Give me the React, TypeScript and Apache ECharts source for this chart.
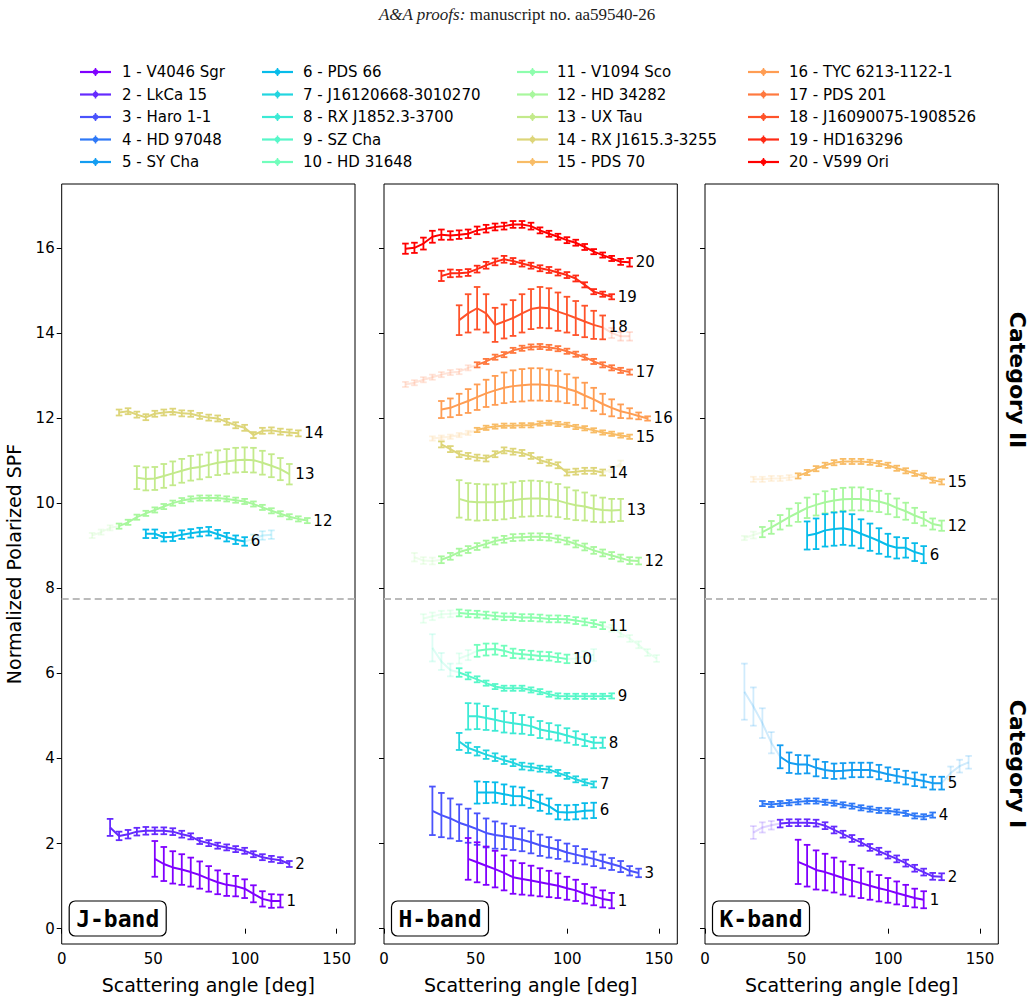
import React, { useEffect, useRef } from "react";
import * as echarts from "echarts";

// Common grid of scattering angles (deg)
const ANGLES = [11.7, 16.6, 21.5, 26.4, 31.3, 36.2, 41.0, 45.9, 50.8, 55.7, 60.6, 65.5, 70.4, 75.3, 80.2, 85.1, 90.0, 94.9, 99.8, 104.6, 109.5, 114.4, 119.3, 124.2, 129.1, 134.0, 138.9, 143.8, 148.7];

const NAMES = [
  "1 - V4046 Sgr", "2 - LkCa 15", "3 - Haro 1-1", "4 - HD 97048", "5 - SY Cha",
  "6 - PDS 66", "7 - J16120668-3010270", "8 - RX J1852.3-3700", "9 - SZ Cha", "10 - HD 31648",
  "11 - V1094 Sco", "12 - HD 34282", "13 - UX Tau", "14 - RX J1615.3-3255", "15 - PDS 70",
  "16 - TYC 6213-1122-1", "17 - PDS 201", "18 - J16090075-1908526", "19 - HD163296", "20 - V599 Ori",
];

const BANDS = ["J-band", "H-band", "K-band"];
const X_TICKS = [0, 50, 100, 150];
const Y_TICKS = [0, 2, 4, 6, 8, 10, 12, 14, 16];
const CATEGORY_SPLIT = 7.76;

// ---------- H band ----------
const H20_VAL = [15.98, 16.0, 16.1, 16.26, 16.31, 16.29, 16.31, 16.33, 16.41, 16.45, 16.49, 16.51, 16.55, 16.55, 16.51, 16.41, 16.33, 16.26, 16.18, 16.12, 16.02, 15.91, 15.83, 15.75, 15.67, 15.66];
const H20_ERR = [0.12, 0.12, 0.14, 0.14, 0.12, 0.1, 0.1, 0.1, 0.09, 0.09, 0.08, 0.08, 0.08, 0.08, 0.08, 0.07, 0.07, 0.07, 0.07, 0.07, 0.07, 0.06, 0.06, 0.06, 0.07, 0.1];
const H19_VAL = [15.34, 15.40, 15.40, 15.42, 15.50, 15.59, 15.67, 15.73, 15.69, 15.63, 15.58, 15.52, 15.48, 15.42, 15.36, 15.28, 15.13, 14.97, 14.91, 14.85];
const H19_ERR = [0.12, 0.09, 0.08, 0.08, 0.08, 0.08, 0.08, 0.08, 0.07, 0.07, 0.07, 0.07, 0.07, 0.07, 0.07, 0.07, 0.06, 0.06, 0.06, 0.06];
const H18_VAL = [14.3, 14.46, 14.58, 14.46, 14.19, 14.27, 14.35, 14.46, 14.56, 14.60, 14.58, 14.50, 14.43, 14.35, 14.27, 14.19, 14.13, 14.00, 13.92, 13.92];
const H18_ERR = [0.35, 0.45, 0.5, 0.45, 0.4, 0.4, 0.42, 0.45, 0.47, 0.48, 0.47, 0.45, 0.42, 0.4, 0.37, 0.33, 0.28, 0.12, 0.1, 0.1];
const H17_VAL = [12.79, 12.83, 12.90, 12.96, 13.02, 13.07, 13.09, 13.18, 13.25, 13.33, 13.43, 13.49, 13.59, 13.64, 13.67, 13.68, 13.66, 13.63, 13.57, 13.50, 13.43, 13.33, 13.25, 13.18, 13.12, 13.08];
const H17_ERR = [0.06];
const H16_VAL = [12.20, 12.24, 12.32, 12.40, 12.49, 12.58, 12.65, 12.71, 12.75, 12.77, 12.79, 12.79, 12.77, 12.75, 12.69, 12.63, 12.53, 12.44, 12.33, 12.24, 12.16, 12.11, 12.05, 11.99];
const H16_ERR = [0.2, 0.22, 0.25, 0.28, 0.3, 0.32, 0.34, 0.36, 0.37, 0.38, 0.38, 0.38, 0.37, 0.36, 0.34, 0.32, 0.3, 0.27, 0.24, 0.2, 0.16, 0.12, 0.08, 0.05];
const H15_VAL = [11.52, 11.54, 11.56, 11.60, 11.65, 11.72, 11.77, 11.80, 11.82, 11.82, 11.83, 11.83, 11.87, 11.89, 11.86, 11.84, 11.79, 11.76, 11.71, 11.66, 11.63, 11.59, 11.56];
const H15_ERR = [0.05];
const H14_VAL = [11.38, 11.27, 11.15, 11.11, 11.07, 11.05, 11.15, 11.24, 11.21, 11.18, 11.11, 11.01, 10.95, 10.89, 10.72, 10.74, 10.76, 10.76, 10.72, 10.80, 10.93];
const H14_ERR = [0.07];
const H13_VAL = [10.10, 10.04, 10.02, 10.02, 10.02, 10.04, 10.07, 10.10, 10.11, 10.11, 10.09, 10.06, 10.00, 9.95, 9.92, 9.87, 9.84, 9.83, 9.84];
const H13_ERR = [0.44, 0.43, 0.43, 0.42, 0.42, 0.42, 0.42, 0.42, 0.42, 0.41, 0.4, 0.39, 0.37, 0.35, 0.33, 0.31, 0.29, 0.27, 0.26];
const H12_VAL = [8.73, 8.65, 8.64, 8.67, 8.75, 8.85, 8.91, 8.98, 9.04, 9.11, 9.15, 9.19, 9.20, 9.21, 9.21, 9.20, 9.16, 9.11, 9.04, 8.97, 8.89, 8.83, 8.77, 8.71, 8.65, 8.64];
const H12_ERR = [0.1, 0.08];
const H11_VAL = [7.29, 7.34, 7.39, 7.40, 7.42, 7.40, 7.39, 7.37, 7.35, 7.33, 7.33, 7.31, 7.31, 7.30, 7.28, 7.28, 7.27, 7.24, 7.21, 7.17, 7.12, 7.06, 6.94, 6.82, 6.67, 6.49, 6.35];
const H11_ERR = [0.1, 0.09, 0.08];
const H10_VAL = [6.35, 6.43, 6.53, 6.56, 6.57, 6.53, 6.47, 6.45, 6.43, 6.41, 6.40, 6.37, 6.34, 6.35, 6.40, 6.43];
const H10_ERR = [0.12, 0.12, 0.14, 0.14, 0.13, 0.12, 0.11, 0.1, 0.1, 0.1, 0.1, 0.1, 0.1, 0.1, 0.12, 0.14];
const H9_VAL = [6.6, 6.28, 6.08, 6.02, 5.94, 5.86, 5.77, 5.69, 5.65, 5.65, 5.65, 5.61, 5.57, 5.51, 5.47, 5.46, 5.46, 5.46, 5.46, 5.46, 5.47];
const H9_ERR = [0.32, 0.2, 0.15, 0.1, 0.08, 0.07, 0.06];
const H8_VAL = [4.99, 4.99, 4.95, 4.91, 4.86, 4.83, 4.80, 4.76, 4.68, 4.64, 4.60, 4.54, 4.48, 4.43, 4.37, 4.37];
const H8_ERR = [0.31, 0.3, 0.28, 0.26, 0.25, 0.24, 0.22, 0.21, 0.2, 0.19, 0.18, 0.17, 0.16, 0.14, 0.13, 0.12];
const H7_VAL = [4.40, 4.25, 4.17, 4.09, 4.03, 3.96, 3.90, 3.82, 3.80, 3.76, 3.74, 3.66, 3.59, 3.51, 3.44, 3.39];
const H7_ERR = [0.2, 0.12, 0.1, 0.1, 0.09, 0.09, 0.08, 0.08, 0.08, 0.07];
const H6_VAL = [3.20, 3.20, 3.20, 3.16, 3.12, 3.11, 3.04, 2.96, 2.88, 2.74, 2.73, 2.74, 2.77, 2.78];
const H6_ERR = [0.26, 0.25, 0.24, 0.23, 0.22, 0.21, 0.2, 0.19, 0.18, 0.17, 0.17, 0.17, 0.18, 0.18];
const H3_VAL = [2.77, 2.67, 2.59, 2.49, 2.42, 2.34, 2.25, 2.20, 2.17, 2.13, 2.09, 2.03, 1.96, 1.91, 1.86, 1.79, 1.74, 1.69, 1.64, 1.58, 1.52, 1.46, 1.36, 1.31];
const H3_ERR = [0.57, 0.52, 0.47, 0.43, 0.4, 0.37, 0.34, 0.32, 0.3, 0.28, 0.27, 0.26, 0.25, 0.24, 0.22, 0.21, 0.2, 0.18, 0.17, 0.16, 0.14, 0.13, 0.11, 0.1];
const H1_VAL = [1.64, 1.56, 1.48, 1.40, 1.31, 1.21, 1.17, 1.13, 1.09, 1.05, 1.01, 0.95, 0.90, 0.82, 0.76, 0.70, 0.66];
const H1_ERR = [0.49, 0.47, 0.45, 0.43, 0.41, 0.39, 0.37, 0.35, 0.33, 0.31, 0.29, 0.27, 0.25, 0.23, 0.21, 0.2, 0.18];

// ---------- J band ----------
const J14_VAL = [12.13, 12.16, 12.08, 12.02, 12.10, 12.13, 12.15, 12.11, 12.10, 12.05, 12.01, 11.99, 11.91, 11.83, 11.77, 11.60, 11.70, 11.71, 11.68, 11.66, 11.64];
const J14_ERR = [0.07];
const J13_VAL = [10.60, 10.57, 10.58, 10.64, 10.70, 10.76, 10.82, 10.85, 10.90, 10.95, 10.98, 11.01, 11.02, 11.01, 10.95, 10.88, 10.80, 10.68];
const J13_ERR = [0.27, 0.27, 0.27, 0.28, 0.28, 0.28, 0.29, 0.29, 0.29, 0.29, 0.29, 0.29, 0.29, 0.29, 0.28, 0.27, 0.26, 0.24];
const J12_VAL = [9.24, 9.32, 9.42, 9.46, 9.55, 9.67, 9.76, 9.84, 9.92, 10.00, 10.06, 10.10, 10.12, 10.12, 10.12, 10.10, 10.07, 10.04, 9.98, 9.90, 9.82, 9.75, 9.68, 9.63, 9.59];
const J12_ERR = [0.06];
const J6_VAL = [9.28, 9.28, 9.20, 9.21, 9.26, 9.29, 9.32, 9.34, 9.27, 9.20, 9.14, 9.10, 9.16, 9.24, 9.26];
const J6_ERR = [0.1];
const J2_VAL = [2.38, 2.18, 2.22, 2.28, 2.30, 2.30, 2.30, 2.28, 2.22, 2.17, 2.06, 2.01, 1.95, 1.91, 1.87, 1.83, 1.75, 1.68, 1.64, 1.61, 1.52];
const J2_ERR = [0.2, 0.1, 0.1, 0.09, 0.09, 0.08, 0.08, 0.08, 0.08, 0.07];
const J1_VAL = [1.64, 1.52, 1.44, 1.39, 1.33, 1.26, 1.17, 1.09, 1.03, 1.00, 0.94, 0.82, 0.70, 0.65, 0.65];
const J1_ERR = [0.42, 0.4, 0.38, 0.36, 0.34, 0.32, 0.3, 0.28, 0.26, 0.24, 0.22, 0.2, 0.18, 0.16, 0.15];

// ---------- K band ----------
const K15_VAL = [10.56, 10.56, 10.58, 10.58, 10.60, 10.64, 10.72, 10.81, 10.89, 10.95, 10.98, 10.98, 10.98, 10.96, 10.93, 10.89, 10.82, 10.76, 10.70, 10.64, 10.54, 10.50];
const K15_ERR = [0.06];
const K12_VAL = [9.18, 9.25, 9.32, 9.43, 9.55, 9.67, 9.78, 9.89, 9.96, 10.02, 10.06, 10.09, 10.10, 10.10, 10.07, 10.04, 9.98, 9.89, 9.81, 9.71, 9.63, 9.51, 9.47];
const K12_ERR = [0.05, 0.08, 0.12, 0.15, 0.17, 0.2, 0.22, 0.24, 0.25, 0.26, 0.27, 0.27, 0.27, 0.27, 0.26, 0.25, 0.24, 0.22, 0.2, 0.18, 0.16, 0.13, 0.12];
const K6_VAL = [9.24, 9.28, 9.36, 9.39, 9.41, 9.37, 9.28, 9.20, 9.11, 9.01, 8.95, 8.95, 8.85, 8.79];
const K6_ERR = [0.33, 0.36, 0.38, 0.39, 0.39, 0.37, 0.34, 0.32, 0.3, 0.27, 0.25, 0.23, 0.21, 0.2];
const K5_VAL = [5.57, 5.22, 4.83, 4.37, 4.04, 3.90, 3.86, 3.86, 3.78, 3.73, 3.70, 3.71, 3.73, 3.73, 3.73, 3.68, 3.63, 3.59, 3.55, 3.51, 3.47, 3.42, 3.42, 3.66, 3.82, 3.91];
const K5_ERR = [0.66, 0.45, 0.35, 0.25, 0.27, 0.24, 0.22, 0.21, 0.2, 0.19, 0.18, 0.18, 0.17, 0.17, 0.17, 0.17, 0.16, 0.16, 0.16, 0.16, 0.15, 0.15, 0.15, 0.15, 0.15, 0.15];
const K4_VAL = [2.94, 2.92, 2.94, 2.96, 2.98, 3.00, 3.00, 2.97, 2.95, 2.91, 2.88, 2.84, 2.81, 2.78, 2.77, 2.74, 2.71, 2.65, 2.63, 2.67];
const K4_ERR = [0.06];
const K2_VAL = [2.26, 2.38, 2.43, 2.47, 2.49, 2.49, 2.49, 2.48, 2.42, 2.32, 2.22, 2.12, 2.03, 1.91, 1.82, 1.73, 1.64, 1.54, 1.42, 1.33, 1.23, 1.22];
const K2_ERR = [0.15, 0.12, 0.1, 0.09, 0.08];
const K1_VAL = [1.57, 1.48, 1.38, 1.33, 1.26, 1.19, 1.13, 1.07, 1.01, 0.95, 0.90, 0.84, 0.78, 0.72, 0.68];
const K1_ERR = [0.52, 0.49, 0.46, 0.43, 0.41, 0.39, 0.37, 0.35, 0.33, 0.31, 0.29, 0.27, 0.25, 0.22, 0.2];

type Curve = { band: number; id: number; g0: number; val: number[]; err: number[]; s0: number; s1: number };

// band, id, first grid index, values, errors, solid range (local indices)
const CURVES: Curve[] = [
  { band: 0, id: 14, g0: 4, val: J14_VAL, err: J14_ERR, s0: 0, s1: 20 },
  { band: 0, id: 13, g0: 6, val: J13_VAL, err: J13_ERR, s0: 0, s1: 17 },
  { band: 0, id: 12, g0: 1, val: J12_VAL, err: J12_ERR, s0: 3, s1: 24 },
  { band: 0, id: 6, g0: 7, val: J6_VAL, err: J6_ERR, s0: 0, s1: 11 },
  { band: 0, id: 2, g0: 3, val: J2_VAL, err: J2_ERR, s0: 0, s1: 20 },
  { band: 0, id: 1, g0: 8, val: J1_VAL, err: J1_ERR, s0: 0, s1: 14 },
  { band: 1, id: 20, g0: 0, val: H20_VAL, err: H20_ERR, s0: 0, s1: 25 },
  { band: 1, id: 19, g0: 4, val: H19_VAL, err: H19_ERR, s0: 0, s1: 19 },
  { band: 1, id: 18, g0: 6, val: H18_VAL, err: H18_ERR, s0: 0, s1: 16 },
  { band: 1, id: 17, g0: 0, val: H17_VAL, err: H17_ERR, s0: 8, s1: 25 },
  { band: 1, id: 16, g0: 4, val: H16_VAL, err: H16_ERR, s0: 0, s1: 23 },
  { band: 1, id: 15, g0: 3, val: H15_VAL, err: H15_ERR, s0: 5, s1: 22 },
  { band: 1, id: 14, g0: 4, val: H14_VAL, err: H14_ERR, s0: 0, s1: 18 },
  { band: 1, id: 13, g0: 6, val: H13_VAL, err: H13_ERR, s0: 0, s1: 18 },
  { band: 1, id: 12, g0: 1, val: H12_VAL, err: H12_ERR, s0: 3, s1: 25 },
  { band: 1, id: 11, g0: 2, val: H11_VAL, err: H11_ERR, s0: 4, s1: 20 },
  { band: 1, id: 10, g0: 6, val: H10_VAL, err: H10_ERR, s0: 2, s1: 12 },
  { band: 1, id: 9, g0: 3, val: H9_VAL, err: H9_ERR, s0: 3, s1: 20 },
  { band: 1, id: 8, g0: 7, val: H8_VAL, err: H8_ERR, s0: 0, s1: 15 },
  { band: 1, id: 7, g0: 6, val: H7_VAL, err: H7_ERR, s0: 0, s1: 15 },
  { band: 1, id: 6, g0: 8, val: H6_VAL, err: H6_ERR, s0: 0, s1: 13 },
  { band: 1, id: 3, g0: 3, val: H3_VAL, err: H3_ERR, s0: 0, s1: 23 },
  { band: 1, id: 1, g0: 7, val: H1_VAL, err: H1_ERR, s0: 0, s1: 16 },
  { band: 2, id: 15, g0: 3, val: K15_VAL, err: K15_ERR, s0: 5, s1: 21 },
  { band: 2, id: 12, g0: 2, val: K12_VAL, err: K12_ERR, s0: 2, s1: 22 },
  { band: 2, id: 6, g0: 9, val: K6_VAL, err: K6_ERR, s0: 0, s1: 13 },
  { band: 2, id: 5, g0: 2, val: K5_VAL, err: K5_ERR, s0: 4, s1: 22 },
  { band: 2, id: 4, g0: 4, val: K4_VAL, err: K4_ERR, s0: 0, s1: 19 },
  { band: 2, id: 2, g0: 3, val: K2_VAL, err: K2_ERR, s0: 3, s1: 21 },
  { band: 2, id: 1, g0: 8, val: K1_VAL, err: K1_ERR, s0: 0, s1: 14 },
];

// ---------- styling ----------
const FONT = "DejaVu Sans";
const PANEL_LEFT = [61.7, 384, 705];
const PANEL_W = 293.3;
const PANEL_TOP = 184;
const PANEL_H = 760;
const FAINT = 0.2;

function rainbow(id: number): [number, number, number] {
  const x = (id - 1) / 19;
  const clip = (v: number) => Math.max(0, Math.min(1, v));
  return [clip(Math.abs(2 * x - 0.5)), clip(Math.sin(Math.PI * x)), clip(Math.cos((Math.PI / 2) * x))].map((v) => Math.round(v * 255)) as any;
}
function rgba(id: number, a: number) {
  const [r, g, b] = rainbow(id);
  return `rgba(${r},${g},${b},${a})`;
}

function errAt(c: Curve, i: number) {
  return i < c.err.length ? c.err[i] : c.err[c.err.length - 1];
}

function buildOption() {
  const series: any[] = [];
  const faintSeries: any[] = [];

  CURVES.forEach((c) => {
    const pts = c.val.map((v, i) => [ANGLES[c.g0 + i], v, errAt(c, i), i < c.s0 || i > c.s1 ? 1 : 0]);
    const axis = { xAxisIndex: c.band, yAxisIndex: c.band };
    const solidCol = rgba(c.id, 1);
    const faintCol = rgba(c.id, FAINT);
    const lineBase = { type: "line", ...axis, symbol: "none", silent: true, z: 3 };
    if (c.s0 > 0) {
      faintSeries.push({ ...lineBase, data: pts.slice(0, c.s0 + 1).map((p) => [p[0], p[1]]), lineStyle: { color: faintCol, width: 2 } });
    }
    if (c.s1 < pts.length - 1) {
      faintSeries.push({ ...lineBase, data: pts.slice(c.s1).map((p) => [p[0], p[1]]), lineStyle: { color: faintCol, width: 2 } });
    }
    series.push({ ...lineBase, z: 4, data: pts.slice(c.s0, c.s1 + 1).map((p) => [p[0], p[1]]), lineStyle: { color: solidCol, width: 2 } });
    series.push({
      type: "custom",
      ...axis,
      z: 5,
      silent: true,
      data: pts,
      encode: { x: 0, y: 1 },
      renderItem: (params: any, api: any) => {
        const x = api.value(0);
        const y = api.value(1);
        const e = api.value(2);
        const faint = api.value(3) === 1;
        const top = api.coord([x, y + e]);
        const bot = api.coord([x, y - e]);
        const cw = 3.3;
        const style = { stroke: faint ? faintCol : solidCol, lineWidth: 1.8, fill: null };
        return {
          type: "group",
          children: [
            { type: "line", shape: { x1: top[0], y1: top[1], x2: bot[0], y2: bot[1] }, style },
            { type: "line", shape: { x1: top[0] - cw, y1: top[1], x2: top[0] + cw, y2: top[1] }, style },
            { type: "line", shape: { x1: bot[0] - cw, y1: bot[1], x2: bot[0] + cw, y2: bot[1] }, style },
          ],
        };
      },
    });
    const last = pts[c.s1];
    series.push({
      type: "custom",
      ...axis,
      z: 6,
      silent: true,
      data: [[last[0], last[1], c.id]],
      encode: { x: 0, y: 1 },
      renderItem: (params: any, api: any) => {
        const p = api.coord([api.value(0), api.value(1)]);
        return {
          type: "text",
          x: p[0] + 6,
          y: p[1],
          style: { text: String(api.value(2)), fill: "#000", fontSize: 15, fontFamily: FONT, align: "left", verticalAlign: "middle" },
        };
      },
    });
  });

  // dashed category separator
  const sep = [0, 1, 2].map((b) => ({
    type: "line",
    xAxisIndex: b,
    yAxisIndex: b,
    data: [],
    silent: true,
    markLine: {
      silent: true,
      symbol: "none",
      label: { show: false },
      lineStyle: { color: "#bbbbbb", width: 1.8, type: [7, 4] },
      data: [{ yAxis: CATEGORY_SPLIT }],
    },
  }));

  const grids = [0, 1, 2].map((b) => ({
    left: PANEL_LEFT[b],
    top: PANEL_TOP,
    width: PANEL_W,
    height: PANEL_H,
    show: true,
    borderColor: "#000",
    borderWidth: 1,
    backgroundColor: "#fff",
  }));

  const xAxes = [0, 1, 2].map((b) => ({
    type: "value",
    gridIndex: b,
    min: 0,
    max: 160,
    splitLine: { show: false },
    axisLine: { show: false },
    axisTick: { show: true, length: 5, lineStyle: { color: "#000", width: 1 }, customValues: X_TICKS },
    axisLabel: { show: true, color: "#000", fontSize: 15, fontFamily: FONT, margin: 7, customValues: X_TICKS },
  }));
  const yAxes = [0, 1, 2].map((b) => ({
    type: "value",
    gridIndex: b,
    min: -0.36,
    max: 17.5,
    splitLine: { show: false },
    axisLine: { show: false },
    axisTick: { show: true, length: 5, lineStyle: { color: "#000", width: 1 }, customValues: Y_TICKS },
    axisLabel: { show: b === 0, color: "#000", fontSize: 15, fontFamily: FONT, margin: 7, customValues: Y_TICKS },
  }));

  // graphic: header, legend, titles, band boxes
  const graphic: any[] = [];
  graphic.push({
    type: "text",
    x: 517,
    y: 14,
    style: {
      text: "{i|A&A proofs:} manuscript no. aa59540-26",
      fontFamily: "Liberation Serif",
      fontSize: 17,
      fill: "#222",
      align: "center",
      verticalAlign: "middle",
      rich: { i: { fontStyle: "italic", fontFamily: "Liberation Serif", fontSize: 17, fill: "#222" } },
    },
  });
  const legCols = [{ lx: 80, tx: 122 }, { lx: 262, tx: 303 }, { lx: 517, tx: 557 }, { lx: 748, tx: 789 }];
  const legRows = [72, 94.5, 117, 139.5, 162];
  NAMES.forEach((name, i) => {
    const col = legCols[Math.floor(i / 5)];
    const y = legRows[i % 5];
    const c = rgba(i + 1, 1);
    graphic.push({ type: "line", shape: { x1: col.lx, y1: y, x2: col.lx + 31, y2: y }, style: { stroke: c, lineWidth: 2.2 } });
    graphic.push({ type: "line", shape: { x1: col.lx + 15.5, y1: y - 4, x2: col.lx + 15.5, y2: y + 4 }, style: { stroke: c, lineWidth: 1.5 } });
    graphic.push({ type: "circle", shape: { cx: col.lx + 15.5, cy: y, r: 2.8 }, style: { fill: c } });
    graphic.push({ type: "text", x: col.tx, y, style: { text: name, fill: "#000", fontSize: 15, fontFamily: FONT, align: "left", verticalAlign: "middle" } });
  });
  graphic.push({
    type: "text",
    x: 14,
    y: 564,
    rotation: Math.PI / 2,
    style: { text: "Normalized Polarized SPF", fill: "#000", fontSize: 19, fontFamily: FONT, align: "center", verticalAlign: "middle" },
  });
  [0, 1, 2].forEach((b) => {
    graphic.push({
      type: "text",
      x: PANEL_LEFT[b] + PANEL_W / 2,
      y: 985,
      style: { text: "Scattering angle [deg]", fill: "#000", fontSize: 19, fontFamily: FONT, align: "center", verticalAlign: "middle" },
    });
    const bx = PANEL_LEFT[b] + 7.5;
    graphic.push({
      type: "rect",
      shape: { x: bx, y: 901, width: 97, height: 35, r: 6 },
      style: { fill: "#fff", stroke: "#000", lineWidth: 1.2 },
      z: 50,
    });
    graphic.push({
      type: "text",
      x: bx + 48.5,
      y: 918.5,
      z: 51,
      style: { text: BANDS[b], fill: "#000", fontSize: 23, fontWeight: "bold", fontFamily: "DejaVu Sans Mono", align: "center", verticalAlign: "middle" },
    });
  });
  graphic.push({
    type: "text",
    x: 1017,
    y: 380,
    rotation: -Math.PI / 2,
    style: { text: "Category II", fill: "#000", fontSize: 22, fontWeight: "bold", fontFamily: FONT, align: "center", verticalAlign: "middle" },
  });
  graphic.push({
    type: "text",
    x: 1017,
    y: 764,
    rotation: -Math.PI / 2,
    style: { text: "Category I", fill: "#000", fontSize: 22, fontWeight: "bold", fontFamily: FONT, align: "center", verticalAlign: "middle" },
  });

  return {
    animation: false,
    backgroundColor: "#fff",
    textStyle: { fontFamily: FONT },
    grid: grids,
    xAxis: xAxes,
    yAxis: yAxes,
    series: [...sep, ...faintSeries, ...series],
    graphic,
  };
}

export default function App() {
  const ref = useRef<HTMLDivElement>(null);
  useEffect(() => {
    if (!ref.current) return;
    const chart = echarts.init(ref.current, undefined, { renderer: "svg" });
    chart.setOption(buildOption() as any);
    return () => chart.dispose();
  }, []);
  return <div ref={ref} style={{ position: "absolute", left: 0, top: 0, width: 1035, height: 1002, background: "#fff" }} />;
}
